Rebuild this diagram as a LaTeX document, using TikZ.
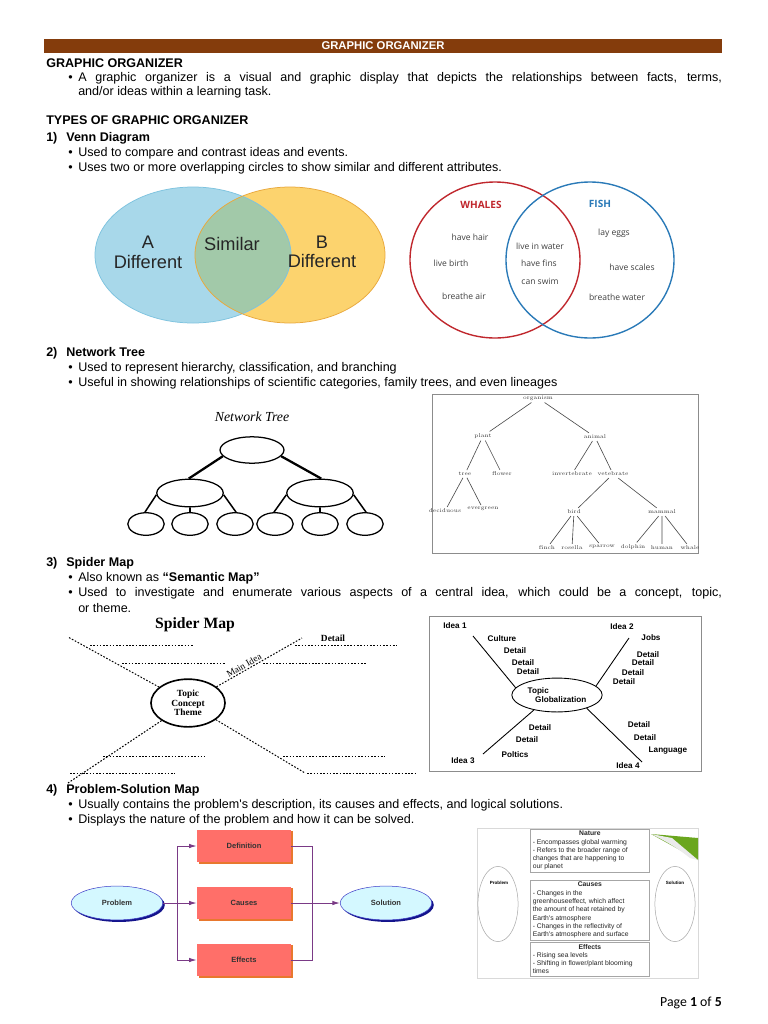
\documentclass[tikz,border=0pt]{standalone}
\usepackage{fontspec}
\newfontfamily\arial{Liberation Sans}
\newfontfamily\timesface{Liberation Serif}
\newfontfamily\footface{Carlito}
\newfontfamily\vennface{Open Sans}
\usetikzlibrary{calc, arrows.meta, shapes.geometric, positioning, shadows}

\definecolor{hdrbrown}{HTML}{843C0C}
\definecolor{vennblue}{HTML}{A8D8EA}
\definecolor{vennblueline}{HTML}{7EC3DF}
\definecolor{vennyellow}{HTML}{FCD36E}
\definecolor{vennyellowline}{HTML}{E9A83C}
\definecolor{vennmix}{HTML}{A2C9A9}
\definecolor{whalered}{HTML}{C0272D}
\definecolor{fishblue}{HTML}{2A7AB8}
\definecolor{salmon}{HTML}{FF6F69}
\definecolor{salmonshadow}{HTML}{E8782E}
\definecolor{ovalcyan}{HTML}{D4F8FF}
\definecolor{ovalline}{HTML}{3C3CC8}
\definecolor{ovalshadow}{HTML}{14148C}
\definecolor{linkpurple}{HTML}{7A3A86}
\definecolor{curlgreen}{HTML}{6AA61E}

\newcommand{\itembul}{\makebox[8pt][l]{\textbullet}}
\newcommand{\numlbl}[1]{\makebox[16pt][l]{#1}}
\newcommand{\psrow}[1]{\makebox[91pt][l]{#1}}

\begin{document}
\begin{tikzpicture}[x=0.797pt, y=-0.797pt,
  txt/.style={anchor=west, inner sep=0pt, font=\arial\fontsize{10}{12}\selectfont},
  head/.style={txt, font=\arial\fontsize{10}{12}\selectfont\bfseries},
  vennbig/.style={inner sep=0pt, text=black!85, font=\arial\fontsize{14.5}{16}\selectfont},
  vennsmall/.style={inner sep=0pt, text=black!75, font=\vennface\fontsize{6.8}{8}\selectfont},
  netoval/.style={ellipse, draw, line width=1pt, fill=white, inner sep=0pt},
  treelbl/.style={inner sep=1.5pt, text=black!80, font=\fontsize{4.4}{5}\selectfont},
  treeline/.style={black!70, line width=0.5pt},
  spdots/.style={dash pattern=on 1.3pt off 1.3pt, line width=0.8pt},
  spserif/.style={inner sep=0pt, font=\timesface\bfseries\fontsize{7.5}{7.5}\selectfont},
  globword/.style={inner sep=0pt, font=\arial\bfseries\fontsize{6.5}{7}\selectfont},
  stepbox/.style={rectangle, fill=salmon, minimum width=75pt, minimum height=26pt,
    font=\arial\bfseries\fontsize{6}{7}\selectfont, text=black!80,
    drop shadow={shadow xshift=1.4pt, shadow yshift=-1.4pt, fill=salmonshadow, opacity=1}},
  endoval/.style={ellipse, draw=ovalline, fill=ovalcyan, minimum width=73pt, minimum height=27pt,
    font=\arial\bfseries\fontsize{6}{7}\selectfont, text=black!80,
    drop shadow={shadow xshift=1.6pt, shadow yshift=-1.6pt, fill=ovalshadow, opacity=1}},
  linkline/.style={linkpurple, line width=0.7pt},
  linkarrow/.style={linkline, -{Latex[length=6pt, width=3.5pt]}},
  notebox/.style={rectangle, draw=black!35, anchor=north west, minimum width=95pt, inner sep=1.5pt,
    align=center, text=black!85, font=\arial\fontsize{5.4}{6.6}\selectfont},
  sideoval/.style={ellipse, draw=black!35, minimum width=32pt, minimum height=60pt, inner sep=0pt}
]
\useasboundingbox (0,0) rectangle (768,1024);
\fill[white] (0,0) rectangle (768,1024);

% Page header and intro
\node[fill=hdrbrown, text=white, minimum width=540pt, minimum height=11pt, inner sep=0pt,
  font=\arial\bfseries\fontsize{9}{10}\selectfont] (hdr) at (383,46) {GRAPHIC ORGANIZER};
\node[head] (gohead) at (46,63) {GRAPHIC ORGANIZER};
\node[txt] (godef1) at (68,78) {\itembul\makebox[513pt][s]{A graphic organizer is a visual and graphic display that depicts the relationships between facts, terms,}};
\node[txt] (godef2) at (78,92) {and/or ideas within a learning task.};
\node[head] (types) at (46,120) {TYPES OF GRAPHIC ORGANIZER};

% 1) Venn diagram
\node[head] (vennhead) at (46,138) {\numlbl{1)}Venn Diagram};
\node[txt] (venn1) at (68,153) {\itembul Used to compare and contrast ideas and events.};
\node[txt] (venn2) at (68,168) {\itembul Uses two or more overlapping circles to show similar and different attributes.};

\fill[vennblue] (193,255) ellipse [x radius=98, y radius=68];
\fill[vennyellow] (290,255) ellipse [x radius=95, y radius=68];
\begin{scope}
  \clip (193,255) ellipse [x radius=98, y radius=68];
  \fill[vennmix] (290,255) ellipse [x radius=95, y radius=68];
\end{scope}
\draw[vennblueline, line width=0.6pt] (193,255) ellipse [x radius=98, y radius=68];
\draw[vennyellowline, line width=0.6pt] (290,255) ellipse [x radius=95, y radius=68];
\node[vennbig] (vA) at (148,242) {A};
\node[vennbig] (vAdiff) at (148,262) {Different};
\node[vennbig] (vsim) at (232,244) {Similar};
\node[vennbig] (vB) at (322,242) {B};
\node[vennbig] (vBdiff) at (322,261) {Different};

\draw[whalered, line width=1.1pt] (495,260) ellipse [x radius=85, y radius=78];
\draw[fishblue, line width=1.1pt] (590,260) ellipse [x radius=84, y radius=78];
\node[inner sep=0pt, text=whalered, font=\vennface\bfseries\fontsize{8}{9}\selectfont] (whales) at (481,205) {WHALES};
\node[inner sep=0pt, text=fishblue, font=\vennface\bfseries\fontsize{8}{9}\selectfont] (fish) at (600,204) {FISH};
\node[vennsmall] (hair) at (470,237) {have hair};
\node[vennsmall] (birth) at (451,263) {live birth};
\node[vennsmall] (air) at (464,296) {breathe air};
\node[vennsmall] (water) at (540,246) {live in water};
\node[vennsmall] (fins) at (539,263) {have fins};
\node[vennsmall] (swim) at (540,281) {can swim};
\node[vennsmall] (eggs) at (614,233) {lay eggs};
\node[vennsmall] (scales) at (632,267) {have scales};
\node[vennsmall] (bwater) at (617,297) {breathe water};

% 2) Network tree
\node[head] (treehead) at (46,353) {\numlbl{2)}Network Tree};
\node[txt] (tree1) at (68,368) {\itembul Used to represent hierarchy, classification, and branching};
\node[txt] (tree2) at (68,383) {\itembul Useful in showing relationships of scientific categories, family trees, and even lineages};

\node[font=\timesface\itshape\fontsize{11}{12}\selectfont] (nettitle) at (252,417) {Network Tree};
\node[netoval, minimum width=51pt, minimum height=21pt] (ntop) at (252,450) {};
\node[netoval, minimum width=53pt, minimum height=22pt] (nmidL) at (190,493) {};
\node[netoval, minimum width=53pt, minimum height=22pt] (nmidR) at (320,493) {};
\node[netoval, minimum width=29pt, minimum height=18pt] (leafA) at (146,524) {};
\node[netoval, minimum width=29pt, minimum height=18pt] (leafB) at (190,524) {};
\node[netoval, minimum width=29pt, minimum height=18pt] (leafC) at (235,524) {};
\node[netoval, minimum width=29pt, minimum height=18pt] (leafD) at (275,524) {};
\node[netoval, minimum width=29pt, minimum height=18pt] (leafE) at (320,524) {};
\node[netoval, minimum width=29pt, minimum height=18pt] (leafF) at (365,524) {};
\draw[line width=1.8pt] (ntop.192) -- (nmidL.95) (ntop.-12) -- (nmidR.85);
\draw[line width=1.2pt] (nmidL.183) -- (leafA.95) (nmidL.270) -- (leafB.90) (nmidL.357) -- (leafC.85);
\draw[line width=1.2pt] (nmidR.183) -- (leafD.95) (nmidR.270) -- (leafE.90) (nmidR.357) -- (leafF.85);

\draw[black!45, line width=0.6pt] (432,394) rectangle (698,553);
\node[treelbl] (org) at (538,398) {organism};
\node[treelbl] (plant) at (483,436) {plant};
\node[treelbl] (animal) at (595,437) {animal};
\node[treelbl] (tree) at (465,474) {tree};
\node[treelbl] (flower) at (502,474) {flower};
\node[treelbl] (invert) at (572,474) {invertebrate};
\node[treelbl] (vert) at (613,474) {vetebrate};
\node[treelbl] (decid) at (445,511) {deciduous};
\node[treelbl] (everg) at (483,509) {evergreen};
\node[treelbl] (bird) at (574,512) {bird};
\node[treelbl] (mammal) at (662,512) {mammal};
\node[treelbl] (finch) at (547,548) {finch};
\node[treelbl] (rosella) at (572,548) {rosella};
\node[treelbl] (sparrow) at (602,547) {sparrow};
\node[treelbl] (dolphin) at (633,547) {dolphin};
\node[treelbl] (human) at (662,548) {human};
\node[treelbl] (whale) at (690,548) {whale};
\draw[treeline] (org) -- (plant) (org) -- (animal) (plant) -- (tree) (plant) -- (flower)
  (animal) -- (invert) (animal) -- (vert) (tree) -- (decid) (tree) -- (everg)
  (vert) -- (bird) (vert) -- (mammal) (bird) -- (finch) (bird) -- (rosella) (bird) -- (sparrow)
  (mammal) -- (dolphin) (mammal) -- (human) (mammal) -- (whale);

% 3) Spider map
\node[head] (spiderhead) at (46,563) {\numlbl{3)}Spider Map};
\node[txt] (spider1) at (68,578) {\itembul Also known as \textbf{“Semantic Map”}};
\node[txt] (spider2) at (68,593) {\itembul\makebox[513pt][s]{Used to investigate and enumerate various aspects of a central idea, which could be a concept, topic,}};
\node[txt] (spider3) at (78,608) {or theme.};

\node[font=\timesface\bfseries\fontsize{12.5}{13}\selectfont] (sptitle) at (195,625) {Spider Map};
\node[ellipse, draw, line width=1.3pt, minimum width=59pt, minimum height=38pt, inner sep=0pt,
  align=center, font=\timesface\bfseries\fontsize{7.5}{7.5}\selectfont] (sp) at (188,703) {Topic\\Concept\\Theme};
\coordinate (spUL) at (68,637);
\coordinate (spUR) at (302,638);
\coordinate (spLL) at (68,783);
\coordinate (spLR) at (305,773);
\draw[spdots] (sp) -- (spUL);
\draw[spdots] (sp) -- node[sloped, above=1pt, pos=0.35, inner sep=0pt,
  font=\timesface\fontsize{7.5}{8}\selectfont] (mainidea) {Main Idea} (spUR);
\draw[spdots] (sp) -- (spLL);
\draw[spdots] (sp) -- (spLR);
\node[spserif] (spdetail) at (333,638) {Detail};
\draw[spdots] (90,645) -- (193,645) (122,663) -- (225,663);
\draw[spdots] (295,645) -- (397,645) (263,663) -- (367,663);
\draw[spdots] (103,756) -- (205,756) (70,773) -- (175,773);
\draw[spdots] (283,756) -- (385,756) (307,773) -- (415,773);

\draw[black!45, line width=0.6pt] (429,616) rectangle (701,771);
\node[ellipse, draw, line width=0.7pt, minimum width=72pt, minimum height=27pt, inner sep=0pt,
  align=left, font=\arial\bfseries\fontsize{6.5}{7.5}\selectfont] (glob) at (557,695) {Topic\\\hspace*{6pt}Globalization};
\node[globword] (idea1) at (455,626) {Idea 1};
\node[globword] (culture) at (502,639) {Culture};
\node[globword] (d1a) at (515,651) {Detail};
\node[globword] (d1b) at (523,663) {Detail};
\node[globword] (d1c) at (528,672) {Detail};
\node[globword] (idea2) at (622,627) {Idea 2};
\node[globword] (jobs) at (651,638) {Jobs};
\node[globword] (d2a) at (648,655) {Detail};
\node[globword] (d2b) at (643,663) {Detail};
\node[globword] (d2c) at (633,673) {Detail};
\node[globword] (d2d) at (624,682) {Detail};
\node[globword] (d3a) at (540,728) {Detail};
\node[globword] (d3b) at (527,740) {Detail};
\node[globword] (poltics) at (515,755) {Poltics};
\node[globword] (idea3) at (463,761) {Idea 3};
\node[globword] (d4a) at (639,725) {Detail};
\node[globword] (d4b) at (645,738) {Detail};
\node[globword] (lang) at (668,751) {Language};
\node[globword] (idea4) at (628,766) {Idea 4};
\coordinate (g1) at (473,636);
\coordinate (g2) at (629,638);
\coordinate (g3) at (483,754);
\coordinate (g4) at (642,762);
\draw[line width=0.7pt] (glob.170) -- (g1) (glob.13) -- (g2) (glob.213) -- (g3) (glob.-24) -- (g4);

% 4) Problem-solution map
\node[head] (pshead) at (46,790) {\numlbl{4)}Problem-Solution Map};
\node[txt] (ps1) at (68,805) {\itembul Usually contains the problem's description, its causes and effects, and logical solutions.};
\node[txt] (ps2) at (68,820) {\itembul Displays the nature of the problem and how it can be solved.};

\node[stepbox] (def) at (244,846) {Definition};
\node[stepbox] (cau) at (244,903) {Causes};
\node[stepbox] (eff) at (244,960) {Effects};
\node[endoval] (prob) at (117,903) {Problem};
\node[endoval] (sol) at (386,903) {Solution};
\coordinate (splitL) at (177,903);
\coordinate (joinR) at (312,903);
\draw[linkline] (prob) -- (splitL);
\draw[linkarrow] (splitL) |- (def);
\draw[linkarrow] (splitL) -- (cau);
\draw[linkarrow] (splitL) |- (eff);
\draw[linkline] (def) -| (joinR);
\draw[linkline] (eff) -| (joinR);
\draw[linkline] (cau) -- (joinR);
\draw[linkarrow] (joinR) -- (sol);

\draw[black!15, line width=0.5pt] (477,828) rectangle (698,978);
\fill[curlgreen] (651,834) -- (698,838) -- (698,860) -- cycle;
\fill[black!8] (651,834) .. controls (668,842) and (680,850) .. (690,858) -- (698,860) -- (672,838) -- cycle;
\node[notebox] (nature) at (530,829) {\textbf{Nature}\\\psrow{- Encompasses global warming}\\\psrow{- Refers to the broader range of}\\\psrow{changes that are happening to}\\\psrow{our planet}};
\node[notebox] (causes) at (530,880) {\textbf{Causes}\\\psrow{- Changes in the}\\\psrow{greenhouseeffect, which affect}\\\psrow{the amount of heat retained by}\\\psrow{Earth's atmosphere}\\\psrow{- Changes in the reflectivity of}\\\psrow{Earth's atmosphere and surface}};
\node[notebox] (effects) at (530,942) {\textbf{Effects}\\\psrow{- Rising sea levels}\\\psrow{- Shifting in flower/plant blooming}\\\psrow{times}};
\node[sideoval] (probside) at (498,904) {};
\node[sideoval] (solside) at (675,904) {};
\node[inner sep=0pt, font=\arial\bfseries\fontsize{3.6}{4}\selectfont] (probtxt) at (499,883) {Problem};
\node[inner sep=0pt, font=\arial\bfseries\fontsize{3.6}{4}\selectfont] (soltxt) at (675,883) {Solution};

% Footer
\node[anchor=east, inner sep=0pt, font=\footface\fontsize{11}{12}\selectfont] (pageno) at (722,1003) {Page \textbf{1} of \textbf{5}};
\end{tikzpicture}
\end{document}
